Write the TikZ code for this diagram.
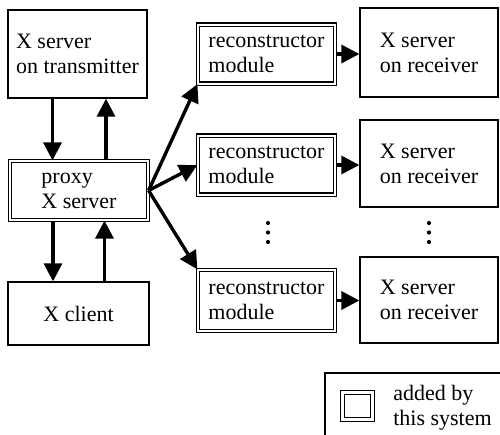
\documentclass[tikz,border=0pt]{standalone}
\usepackage{fontspec}
\setmainfont{Liberation Serif}
\usetikzlibrary{arrows.meta}

\begin{document}
\begin{tikzpicture}[x=1pt, y=-1pt, line width=1.3pt,
	every node/.style={align=left, font=\fontsize{22}{25}\selectfont},
	plain/.style={draw, minimum width=139pt},
	added/.style={draw, double, double distance=2pt, line width=1.2pt, minimum width=137pt},
	flow/.style={line width=3.4pt, -{Triangle[length=18pt,width=18pt]}}]
	\useasboundingbox (0,0) rectangle (500,434);
	
	\node (trans) at (77.5,54) [plain, minimum height=88pt] {X server\\on transmitter};
	\node (proxy) at (79,190.5) [added, minimum width=138pt, minimum height=59pt] {proxy\\X server};
	\node (client) at (78.5,313.5) [plain, minimum width=141pt, minimum height=63pt] {X client};
	
	\node (recon1) at (266.5,54) [added, minimum height=59pt] {reconstructor\\module};
	\node (recon2) at (266.5,165) [added, minimum height=59pt] {reconstructor\\module};
	\node (recon3) at (266.5,300.5) [added, minimum height=61pt] {reconstructor\\module};
	
	\node (recv1) at (429,52.5) [plain, minimum width=138pt, minimum height=89pt] {X server\\on receiver};
	\node (recv2) at (429,163.5) [plain, minimum width=138pt, minimum height=87pt] {X server\\on receiver};
	\node (recv3) at (429,300) [plain, minimum width=138pt, minimum height=86pt] {X server\\on receiver};
	
	% vertical ellipses
	\coordinate (dots1) at (268,232.5);
	\coordinate (dots2) at (429,232.5);
	\foreach \d in {dots1,dots2}
		\foreach \dy in {-9.5,0,9.5}
			\fill ([yshift=\dy pt]\d) circle (2.1pt);
	
	\draw[flow] ([xshift=-25pt]trans.south) -- ([xshift=-25pt]trans.south |- proxy.north);
	\draw[flow] ([xshift=27pt]proxy.north) -- ([xshift=27pt]proxy.north |- trans.south);
	\draw[flow] ([xshift=-26pt]proxy.south) -- ([xshift=-26pt]proxy.south |- client.north);
	\draw[flow] ([xshift=26pt]client.north) -- ([xshift=26pt]client.north |- proxy.south);
	
	\draw[flow] (proxy.east) -- (recon1.south west);
	\draw[flow] (proxy.east) -- (recon2.west);
	\draw[flow] (proxy.east) -- (recon3.north west);
	
	\draw[flow] (recon1.east) -- (recon1.east -| recv1.west);
	\draw[flow] (recon2.east) -- (recon2.east -| recv2.west);
	\draw[flow] (recon3.east) -- (recon3.east -| recv3.west);
	
	\node (legend) at (417.5,409) [draw, minimum width=185pt, minimum height=72pt] {};
	\node (icon) at (357.5,406) [added, minimum width=30pt, minimum height=27pt, line width=1.1pt, double distance=2.5pt] {};
	\node (note) at (442.5,408) {added by\\this system};
	
\end{tikzpicture}
\end{document}
